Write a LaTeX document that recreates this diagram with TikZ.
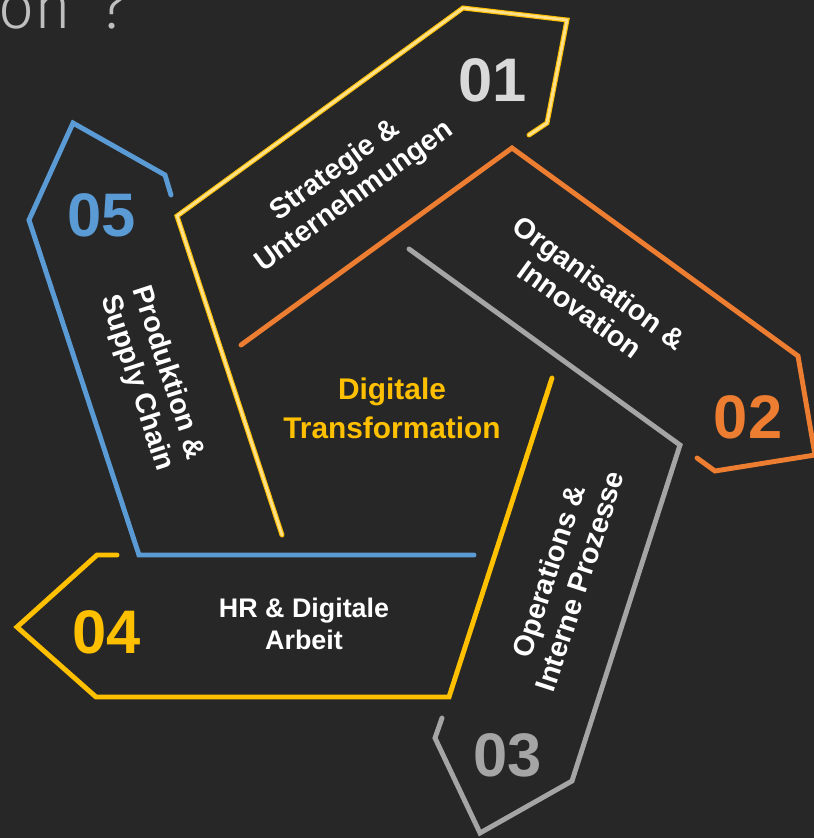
\documentclass[tikz,border=0pt]{standalone}
\usepackage{fontspec}
\setmainfont{Liberation Sans}
\IfFontExistsTF{Fira Sans Light}{\newfontfamily\thinfont{Fira Sans Light}}{\newfontfamily\thinfont{Liberation Sans}}
\definecolor{bg}{RGB}{39,39,39}
\definecolor{gold}{RGB}{255,192,0}
\definecolor{lightgold}{RGB}{255,224,140}
\definecolor{orangeline}{RGB}{237,125,49}
\definecolor{greyline}{RGB}{165,165,165}
\definecolor{blueline}{RGB}{91,155,213}
\definecolor{lightnum}{RGB}{217,217,217}
\definecolor{titlegrey}{RGB}{191,191,191}

\begin{document}
\begin{tikzpicture}[x = 0.02cm, y = -0.02cm,
  arm/.style = {line width = 2.8pt, line cap = round, line join = miter},
  num/.style = {inner sep = 0pt, font = \bfseries\fontsize{35}{35}\selectfont},
  lbl/.style = {text = white, align = center, font = \bfseries\fontsize{16.3}{18.7}\selectfont}]
\fill[bg] (0,0) rectangle (814,838);
\useasboundingbox (0,0) rectangle (814,838);
% title, cut by the page edge
\node[anchor = base west, inner sep = 0pt, text = titlegrey, font = \thinfont\fontsize{36}{36}\selectfont] (title) at (-2,29) {on\hspace{0.44em}?};
% the five arms
\draw[arm, draw = gold, postaction = {draw = lightgold, line width = 1.5pt}] (282,535) -- (177,216) -- (463,8) -- (567,20) -- (547,123) -- (529,135);
\draw[arm, orangeline] (241,345) -- (512,148) -- (798,356) -- (815,455) -- (715,471) -- (697,458);
\draw[arm, greyline] (409,249) -- (680,445) -- (572,781) -- (480,833) -- (435,738) -- (442,718);
\draw[arm, gold] (552,378) -- (449,697) -- (96,697) -- (17,627) -- (97,555) -- (117,555);
\draw[arm, blueline] (474,555) -- (139,555) -- (29,220) -- (73,123) -- (165,175) -- (171,195);
% numbers
\node[num, text = lightnum] (1) at (493,80) {01};
\node[num, text = orangeline] (2) at (748,417) {02};
\node[num, text = greyline] (3) at (508,755) {03};
\node[num, text = gold] (4) at (107,632) {04};
\node[num, text = blueline] (5) at (102,215) {05};
% labels
\node[lbl, rotate = 36] (l1) at (345,184) {Strategie \&\\Unternehmungen};
\node[lbl, rotate = -36] (l2) at (590,296) {Organisation \&\\Innovation};
\node[lbl, rotate = 72] (l3) at (564,576) {Operations \&\\Interne Prozesse};
\node[lbl, font = \bfseries\fontsize{15.3}{18.1}\selectfont] (l4) at (304,624) {HR \& Digitale\\Arbeit};
\node[lbl, rotate = -72] (l5) at (152,378) {Produktion \&\\Supply Chain};
\node[text = gold, align = center, font = \bfseries\fontsize{17}{22.1}\selectfont] (0) at (392,408) {Digitale\\Transformation};
\end{tikzpicture}
\end{document}
